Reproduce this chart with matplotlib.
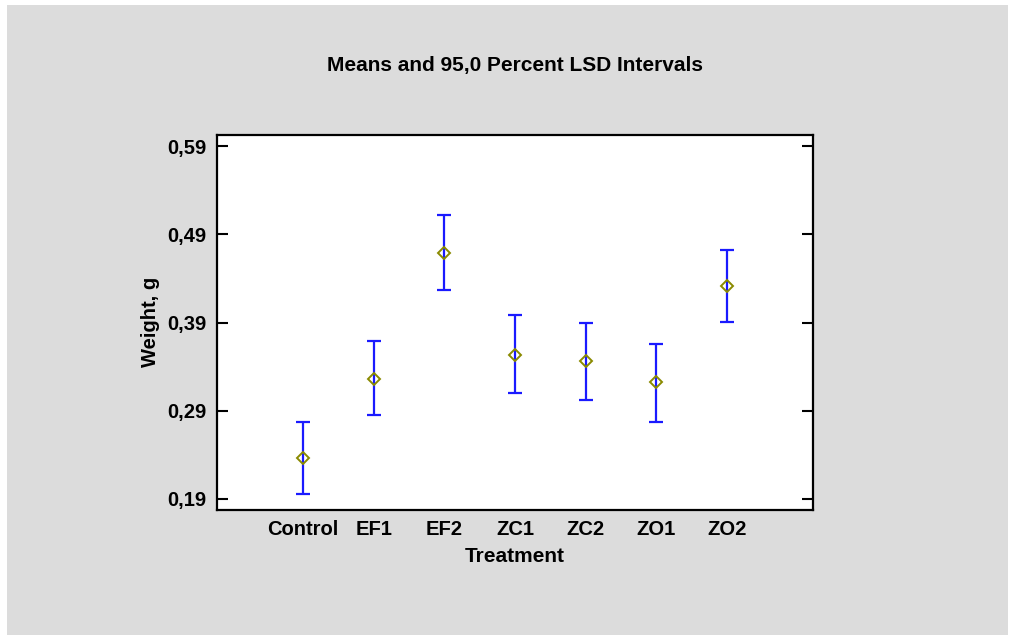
import matplotlib
matplotlib.use("Agg")
import matplotlib.pyplot as plt
from matplotlib.patches import Rectangle

treatments = ["Control", "EF1", "EF2", "ZC1", "ZC2", "ZO1", "ZO2"]
means = [0.2366, 0.3264, 0.4688, 0.3533, 0.3460, 0.3226, 0.4309]
lower = [0.1957, 0.2855, 0.4272, 0.3101, 0.3025, 0.2775, 0.3911]
upper = [0.2775, 0.3695, 0.5116, 0.3980, 0.3892, 0.3661, 0.4722]
yticks = [0.19, 0.29, 0.39, 0.49, 0.59]
ytick_labels = ["0,19", "0,29", "0,39", "0,49", "0,59"]

plt.rcParams['font.family'] = ['Liberation Sans', 'DejaVu Sans']
W, H = 1010, 635
fig = plt.figure(figsize=(W / 100, H / 100), dpi=100)
fig.patch.set_facecolor('white')
bg = Rectangle((7 / W, 0), 1001 / W, (H - 5) / H,
               transform=fig.transFigure, facecolor='#dcdcdc',
               edgecolor='none', zorder=-10)
fig.add_artist(bg)

ax = fig.add_axes([217 / W, 1 - 510 / H, (813 - 217) / W, (510 - 135) / H])
ax.set_facecolor('white')

x = list(range(len(treatments)))
yerr_lo = [m - l for m, l in zip(means, lower)]
yerr_hi = [u - m for m, u in zip(means, upper)]
ax.errorbar(x, means, yerr=[yerr_lo, yerr_hi], fmt='none', ecolor='#1a1aff',
            elinewidth=1.6, capsize=4.8, capthick=1.6, zorder=2)
ax.plot(x, means, linestyle='none', marker='D', markersize=6,
        markerfacecolor='none', markeredgecolor='#8a8a00', markeredgewidth=1.4,
        zorder=3)

ax.set_xlim(-1.22, 7.22)
ax.set_ylim(0.1775, 0.6025)
ax.set_yticks(yticks)
ax.set_yticklabels(ytick_labels, fontsize=14.5, fontweight='bold')
ax.set_xticks(x)
ax.set_xticklabels(treatments, fontsize=14.5, fontweight='bold')
ax.tick_params(axis='x', length=0, pad=7.5)
ax.tick_params(axis='y', direction='in', length=8, width=1.5, left=True,
               right=True, pad=7.5)
for s in ax.spines.values():
    s.set_linewidth(1.6)
    s.set_color('black')

fig.text(515 / W, 1 - 65 / H, "Means and 95,0 Percent LSD Intervals",
         ha='center', va='center', fontsize=15, fontweight='bold')
fig.text(515 / W, 1 - 556 / H, "Treatment", ha='center', va='center',
         fontsize=15, fontweight='bold')
fig.text(150 / W, 1 - 322 / H, "Weight, g", ha='center', va='center',
         rotation=90, fontsize=14.5, fontweight='bold')

fig.savefig("out.png", dpi=100)
